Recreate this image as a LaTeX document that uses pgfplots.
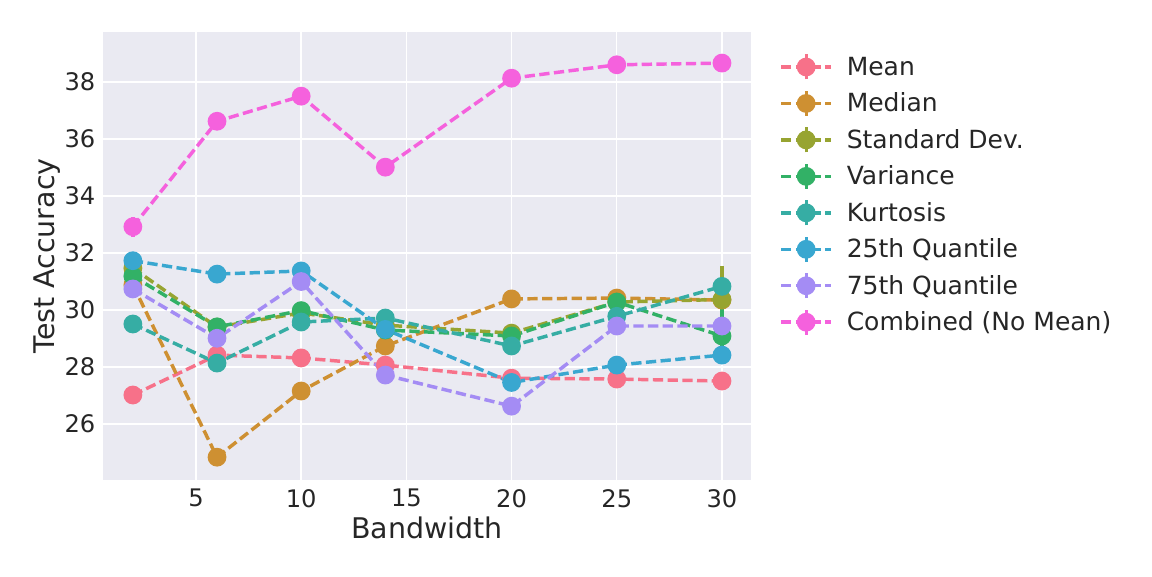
\documentclass[border=0pt]{standalone}
\usepackage{fontspec}
\setmainfont{DejaVu Sans}
\usepackage{pgfplots}
\pgfplotsset{compat=1.18}
\definecolor{bg}{HTML}{EAEAF2}
\definecolor{txt}{HTML}{262626}
\definecolor{c1}{HTML}{F77189}
\definecolor{c2}{HTML}{CE9032}
\definecolor{c3}{HTML}{97A431}
\definecolor{c4}{HTML}{32B166}
\definecolor{c5}{HTML}{36ADA4}
\definecolor{c6}{HTML}{39A7D0}
\definecolor{c7}{HTML}{A48CF4}
\definecolor{c8}{HTML}{F561DD}
\pgfplotsset{
  ser/.style={color=#1, line width=2.5pt, dash pattern=on 7.4pt off 3.2pt,
    mark=*, mark size=5.5pt, mark options={solid, draw=none, fill=#1}},
}
\begin{document}
\begin{tikzpicture}
\useasboundingbox (0,0) rectangle (829.44pt,414.72pt);
\begin{axis}[
  at={(74.16pt,69.12pt)}, anchor=south west, scale only axis,
  width=466.56pt, height=322.56pt,
  xmin=0.58, xmax=31.38, ymin=24.04, ymax=39.75,
  axis background/.style={fill=bg},
  axis line style={draw=none},
  major tick length=0pt,
  grid=major, grid style={white, line width=1pt},
  xtick={5,10,...,30}, ytick={26,28,...,38},
  tick label style={font=\fontsize{17.4}{20}\selectfont, text=txt},
  xticklabel style={yshift=-3pt},
  yticklabel style={xshift=-2pt},
  /pgf/number format/assume math mode=true,
  label style={font=\fontsize{20.5}{24}\selectfont, text=txt},
  xlabel={Bandwidth}, ylabel={Test Accuracy},
  xlabel style={yshift=0pt},
  ylabel style={yshift=-4pt},
  error bars/y dir=both, error bars/y explicit, error bars/error mark=none,
  error bars/error bar style={solid, line width=2.4pt},
  legend cell align=left,
  legend style={at={(1.037,0.96)}, anchor=north west, draw=none, fill=none,
    font=\fontsize{18}{21}\selectfont, text=txt, row sep=6.05pt,
    /tikz/every odd column/.append style={column sep=8pt}},
  legend image code/.code={
    \draw[#1, solid, mark=none, line width=2.2pt] (18pt,-9pt) -- (18pt,9pt);
    \draw[mark repeat=2, mark phase=2, #1] plot coordinates {(0pt,0pt) (18pt,0pt) (36pt,0pt)};
  },
]
\addplot[ser=c1] coordinates {(2,27.02) +- (0,0) (6,28.42) +- (0,0) (10,28.32) +- (0,0) (14,28.07) +- (0,0) (20,27.61) +- (0,0) (25,27.58) +- (0,0) (30,27.51) +- (0,0)};
\addlegendentry{Mean}
\addplot[ser=c2] coordinates {(2,30.88) +- (0,0) (6,24.84) +- (0,0) (10,27.16) +- (0,0) (14,28.74) +- (0,0) (20,30.39) +- (0,0) (25,30.42) +- (0,0) (30,30.35) +- (0,0)};
\addlegendentry{Median}
\addplot[ser=c3] coordinates {(2,31.47) +- (0,0) (6,29.40) +- (0,0) (10,29.90) +- (0,0) (14,29.47) +- (0,0) (20,29.19) +- (0,0) (25,30.28) +- (0,0) (30,30.37) +- (0,1.17)};
\addlegendentry{Standard Dev.}
\addplot[ser=c4] coordinates {(2,31.19) +- (0,0) (6,29.41) +- (0,0) (10,29.98) +- (0,0) (14,29.30) +- (0,0) (20,29.09) +- (0,0) (25,30.28) +- (0,0) (30,29.09) +- (0,0.98)};
\addlegendentry{Variance}
\addplot[ser=c5] coordinates {(2,29.51) +- (0,0) (6,28.14) +- (0,0) (10,29.58) +- (0,0) (14,29.72) +- (0,0) (20,28.74) +- (0,0) (25,29.78) +- (0,0) (30,30.83) +- (0,0)};
\addlegendentry{Kurtosis}
\addplot[ser=c6] coordinates {(2,31.73) +- (0,0) (6,31.26) +- (0,0) (10,31.37) +- (0,0) (14,29.32) +- (0,0) (20,27.46) +- (0,0) (25,28.07) +- (0,0) (30,28.42) +- (0,0)};
\addlegendentry{25th Quantile}
\addplot[ser=c7] coordinates {(2,30.74) +- (0,0) (6,29.01) +- (0,0) (10,31.00) +- (0,0) (14,27.72) +- (0,0) (20,26.63) +- (0,0) (25,29.44) +- (0,0) (30,29.44) +- (0,0)};
\addlegendentry{75th Quantile}
\addplot[ser=c8] coordinates {(2,32.92) +- (0,0.36) (6,36.62) +- (0,0) (10,37.50) +- (0,0) (14,35.01) +- (0,0) (20,38.13) +- (0,0) (25,38.60) +- (0,0) (30,38.66) +- (0,0.33)};
\addlegendentry{Combined (No Mean)}
\end{axis}
\end{tikzpicture}
\end{document}
